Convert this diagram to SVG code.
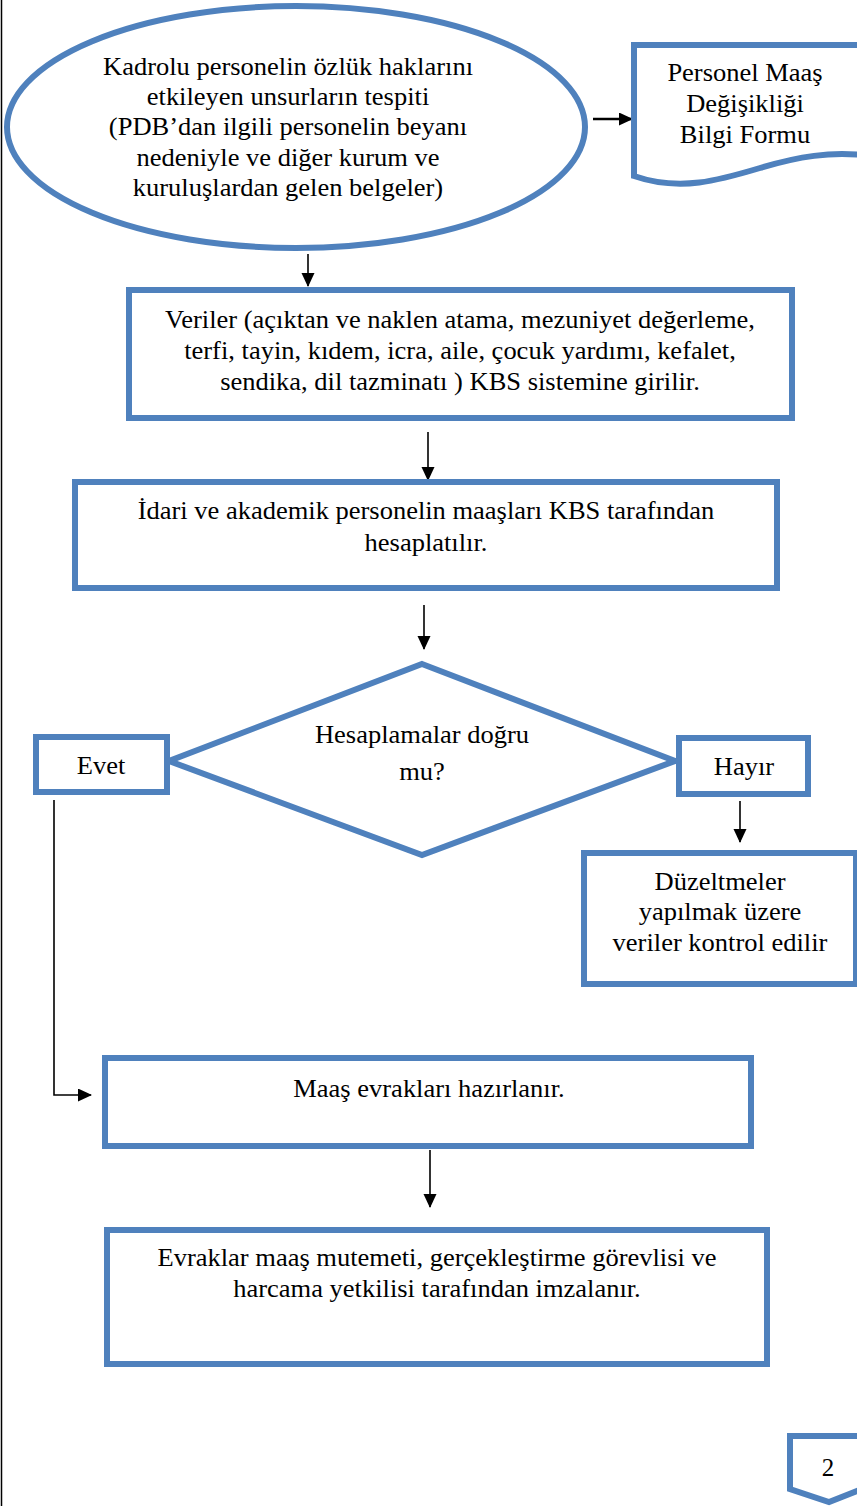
<svg xmlns="http://www.w3.org/2000/svg" width="857" height="1506" viewBox="0 0 857 1506">
<style>
.n{fill:#fff;stroke:#4F81BD;stroke-width:6}
.t{font-family:'Liberation Serif','Times New Roman',serif;font-size:25px;fill:#000;text-anchor:middle}
.c{stroke:#000;stroke-width:1.6;fill:none}
</style>
<defs>
<marker id="ah" markerWidth="14" markerHeight="14" refX="13" refY="6.5" orient="auto" markerUnits="userSpaceOnUse"><path d="M0,0 L14,6.5 L0,13 Z" fill="#000"/></marker>
</defs>
<rect width="857" height="1506" fill="#fff"/>
<line x1="1.5" y1="0" x2="1.5" y2="1506" stroke="#000" stroke-width="1.5"/>
<g id="connectors">
<line class="c" x1="593" y1="119" x2="632" y2="119" marker-end="url(#ah)" style="stroke-width:2.5"/>
<line class="c" x1="308" y1="254" x2="308" y2="286" marker-end="url(#ah)"/>
<line class="c" x1="428" y1="432" x2="428" y2="480" marker-end="url(#ah)"/>
<line class="c" x1="424" y1="605" x2="424" y2="649" marker-end="url(#ah)"/>
<line class="c" x1="740" y1="801" x2="740" y2="842" marker-end="url(#ah)"/>
<polyline class="c" points="54,800 54,1095 91,1095" marker-end="url(#ah)"/>
<line class="c" x1="430" y1="1150" x2="430" y2="1207" marker-end="url(#ah)"/>
</g>
<g id="start">
<ellipse class="n" cx="296" cy="127" rx="289" ry="121"/>
<g transform="translate(288,0) scale(1.06,1)">
<text class="t" x="0" y="75">Kadrolu personelin özlük haklarını</text>
<text class="t" x="0" y="105">etkileyen unsurların tespiti</text>
<text class="t" x="0" y="135">(PDB’dan ilgili personelin beyanı</text>
<text class="t" x="0" y="166">nedeniyle ve diğer kurum ve</text>
<text class="t" x="0" y="196">kuruluşlardan gelen belgeler)</text>
</g>
</g>
<g id="form">
<path class="n" d="M634,45 H862 V155 C830,152 800,156 760,168 C720,180 680,192 634,176 Z"/>
<g transform="translate(745,0) scale(1.06,1)">
<text class="t" x="0" y="81">Personel Maaş</text>
<text class="t" x="0" y="112">Değişikliği</text>
<text class="t" x="0" y="143">Bilgi Formu</text>
</g>
</g>
<g id="veriler">
<rect class="n" x="129" y="290" width="663" height="128"/>
<g transform="translate(460,0) scale(1.06,1)">
<text class="t" x="0" y="328">Veriler (açıktan ve naklen atama, mezuniyet değerleme,</text>
<text class="t" x="0" y="359">terfi, tayin, kıdem, icra, aile, çocuk yardımı, kefalet,</text>
<text class="t" x="0" y="390">sendika, dil tazminatı ) KBS sistemine girilir.</text>
</g>
</g>
<g id="hesap">
<rect class="n" x="75" y="482" width="702" height="106"/>
<g transform="translate(426,0) scale(1.06,1)">
<text class="t" x="0" y="519">İdari ve akademik personelin maaşları KBS tarafından</text>
<text class="t" x="0" y="551">hesaplatılır.</text>
</g>
</g>
<g id="decision">
<polygon class="n" points="422,664 675,761 422,855 169,761"/>
<g transform="translate(422,0) scale(1.06,1)">
<text class="t" x="0" y="743">Hesaplamalar doğru</text>
<text class="t" x="0" y="780">mu?</text>
</g>
</g>
<g id="evet">
<rect class="n" x="36" y="737" width="131" height="55"/>
<text class="t" x="101" y="774" transform="translate(101,0) scale(1.06,1) translate(-101,0)">Evet</text>
</g>
<g id="hayir">
<rect class="n" x="679" y="738" width="129" height="56"/>
<text class="t" x="744" y="775" transform="translate(744,0) scale(1.06,1) translate(-744,0)">Hayır</text>
</g>
<g id="duzelt">
<rect class="n" x="584" y="853" width="272" height="131"/>
<g transform="translate(720,0) scale(1.06,1)">
<text class="t" x="0" y="890">Düzeltmeler</text>
<text class="t" x="0" y="920">yapılmak üzere</text>
<text class="t" x="0" y="951">veriler kontrol edilir</text>
</g>
</g>
<g id="evrak">
<rect class="n" x="105" y="1058" width="646" height="88"/>
<text class="t" x="429" y="1097" transform="translate(429,0) scale(1.06,1) translate(-429,0)">Maaş evrakları hazırlanır.</text>
</g>
<g id="imza">
<rect class="n" x="107" y="1230" width="660" height="134"/>
<g transform="translate(437,0) scale(1.06,1)">
<text class="t" x="0" y="1266">Evraklar maaş mutemeti, gerçekleştirme görevlisi ve</text>
<text class="t" x="0" y="1297">harcama yetkilisi tarafından imzalanır.</text>
</g>
</g>
<g id="page">
<path class="n" d="M790,1436 H862 V1489 L829,1502 L790,1489 Z"/>
<text class="t" x="828" y="1476">2</text>
</g>
</svg>
